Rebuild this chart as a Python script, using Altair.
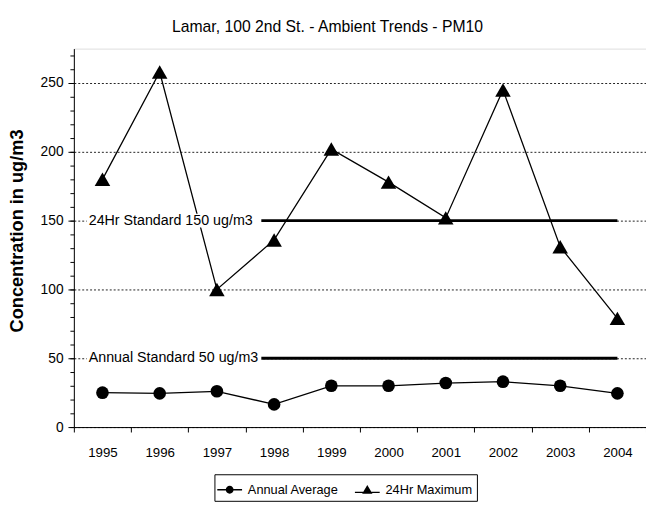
import altair as alt
import pandas as pd

years = ["1995", "1996", "1997", "1998", "1999", "2000", "2001", "2002", "2003", "2004"]
annual_avg = [25, 24.5, 26, 16.5, 30, 30, 32, 33, 30, 24.5]
max_24hr = [180, 258, 100, 136, 202, 178, 152, 245, 131, 79]
series_names = ["Annual Average", "24Hr Maximum"]
std_labels = ["24Hr Standard 150 ug/m3", "Annual Standard 50 ug/m3"]
std_values = [150, 50]
major_ticks = [0, 50, 100, 150, 200, 250]
minor_ticks = list(range(0, 280, 10))

FONT = "Liberation Sans"

rows = []
for y, a, m in zip(years, annual_avg, max_24hr):
    rows.append({"year": y, "series": series_names[0], "value": a})
    rows.append({"year": y, "series": series_names[1], "value": m})
df = pd.DataFrame(rows)

std_df = pd.DataFrame({
    "label": std_labels,
    "value": std_values,
    "start": ["1998"] * 2,
    "end": ["2004"] * 2,
    "lstart": ["1995"] * 2,
})

xscale = alt.Scale(type="band", domain=years, paddingInner=0, paddingOuter=0)
yscale = alt.Scale(domain=[0, 275], nice=False)

X = alt.X("year:N", scale=xscale, bandPosition=0.5,
          axis=alt.Axis(title=None, tickBand="extent", labelAngle=0, labelFontSize=13.5,
                        labelFont=FONT, labelColor="black", tickColor="black", domainColor="black",
                        tickSize=5, labelPadding=14, grid=False))

Y_major = alt.Y("value:Q", scale=yscale,
                axis=alt.Axis(orient="left", values=major_ticks, title="Concentration in ug/m3",
                              titleFont=FONT, titleFontSize=18.5, titleFontWeight="bold",
                              titleColor="black", titleX=-58, titleY=185, titleBaseline="middle",
                              titleAlign="center", titleAngle=270,
                              labelFont=FONT, labelFontSize=14, labelColor="black",
                              tickColor="black", tickSize=6, domainColor="black",
                              grid=True, gridDash=[2, 2], gridColor="#222", gridWidth=1,
                              labelPadding=5))

lines = alt.Chart(df).mark_line(strokeWidth=1.3, color="black").encode(
    x=X, y=Y_major,
    detail="series:N",
)

Xs = alt.X("year:N", scale=xscale, bandPosition=0.5)
Ys = alt.Y("value:Q", scale=yscale, axis=None)

pts = alt.Chart(df).mark_point(filled=True, opacity=1, color="black").encode(
    x=Xs, y=Ys,
    shape=alt.Shape("series:N", scale=alt.Scale(domain=series_names, range=["circle", "triangle-up"]), legend=None),
    size=alt.Size("series:N", scale=alt.Scale(domain=series_names, range=[165, 250]), legend=None),
)

# legend symbols: marker with a line through it (line drawn as thin filled bars)
circ = ("M-1.2,-0.065L-0.36,-0.065L-0.36,0.065L-1.2,0.065Z"
        "M0.36,-0.065L1.2,-0.065L1.2,0.065L0.36,0.065Z"
        "M-0.38,0A0.38,0.38 0 1,1 0.38,0A0.38,0.38 0 1,1 -0.38,0Z")
tri = ("M-1.2,0.2L-0.4,0.2L-0.4,0.33L-1.2,0.33Z"
       "M0.4,0.2L1.2,0.2L1.2,0.33L0.4,0.33Z"
       "M0,-0.45L0.5,0.4L-0.5,0.4Z")
leg_pts = alt.Chart(df).mark_point(filled=True, color="black", opacity=0).encode(
    x=Xs, y=Ys,
    shape=alt.Shape("series:N", scale=alt.Scale(domain=series_names, range=[circ, tri]),
                    legend=alt.Legend(title=None, orient="none", legendX=143, legendY=433,
                                      direction="horizontal", strokeColor="black", padding=4,
                                      labelFont=FONT, labelFontSize=13, labelColor="black",
                                      symbolSize=441, symbolFillColor="black",
                                      symbolOpacity=1, columnPadding=12,
                                      labelOffset=7)),
)

minor = alt.Chart(df).mark_point(opacity=0).encode(
    x=Xs,
    y=alt.Y("value:Q", scale=yscale,
            axis=alt.Axis(orient="left", values=minor_ticks, labels=False, title=None,
                          tickSize=4, tickColor="black", domain=False, grid=False)),
)

gap = alt.Chart(std_df).mark_rule(color="white", strokeWidth=14, xOffset=-16, x2Offset=-13).encode(
    x=alt.X("lstart:N", scale=xscale, bandPosition=0.5),
    x2="start:N",
    y=Ys,
)
std_rule = alt.Chart(std_df).mark_rule(color="black", strokeWidth=3, xOffset=-13).encode(
    x=alt.X("start:N", scale=xscale, bandPosition=0.5),
    x2="end:N",
    y=Ys,
)
std_text = alt.Chart(std_df).mark_text(align="left", baseline="middle", font=FONT, fontSize=14.5,
                                        color="black", dx=-14).encode(
    x=alt.X("lstart:N", scale=xscale, bandPosition=0.5),
    y=Ys,
    text="label:N",
)

chart = alt.layer(lines, minor, gap, std_rule, std_text, pts, leg_pts).resolve_axis(
    y="independent"
).resolve_scale(shape="independent", size="independent").properties(
    width=582, height=385,
    title=alt.TitleParams("Lamar, 100 2nd St. - Ambient Trends - PM10", font=FONT, fontSize=16,
                          fontWeight="normal", color="black", offset=14, dx=-33),
    autosize=alt.AutoSizeParams(type="none"),
    padding={"left": 67, "top": 37, "right": 0, "bottom": 78},
).configure_view(stroke="black", strokeWidth=1).configure(background="white")

chart.save("out.html", embed_options={"renderer": "svg", "actions": False})
